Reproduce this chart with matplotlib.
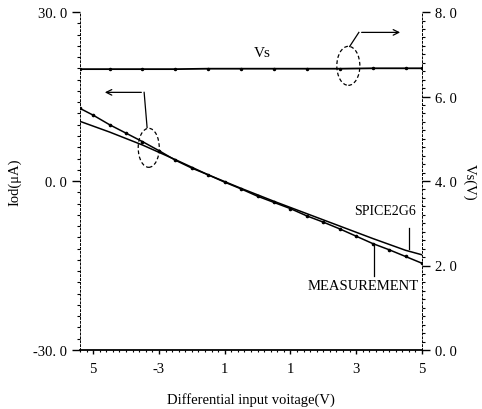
import matplotlib
matplotlib.use("Agg")
import matplotlib.pyplot as plt
from matplotlib.patches import Ellipse
from matplotlib.ticker import MultipleLocator, FixedLocator, FixedFormatter

plt.rcParams['font.family'] = ['Liberation Serif', 'DejaVu Serif']

# ---- data ----
x_meas = [-5.4, -5.0, -4.5, -4.0, -3.5, -3.0, -2.5, -2.0, -1.5, -1.0, -0.5,
          0.0, 0.5, 1.0, 1.5, 2.0, 2.5, 3.0, 3.5, 4.0, 4.5, 5.0]
iod_meas = [12.9, 11.7, 10.0, 8.5, 7.0, 5.4, 3.7, 2.3, 1.1, -0.2, -1.4,
            -2.7, -3.8, -4.9, -6.2, -7.3, -8.5, -9.8, -11.1, -12.2, -13.4, -14.6]

x_spice = [-5.4, -4.5, -3.5, -2.5, -1.5, -0.5, 0.5, 1.5, 2.5, 3.5, 4.5, 5.0]
iod_spice = [10.6, 8.7, 6.4, 3.8, 1.1, -1.3, -3.6, -5.8, -8.0, -10.2, -12.3, -13.1]

x_vs = [-5.4, -4.5, -3.5, -2.5, -1.5, -0.5, 0.5, 1.5, 2.5, 3.5, 4.5, 5.0]
vs_vals = [6.65, 6.65, 6.65, 6.65, 6.66, 6.66, 6.66, 6.66, 6.66, 6.67, 6.67, 6.67]

x_ticks = [-5, -3, -1, 1, 3, 5]
x_ticklabels = ["5", "-3", "1", "1", "3", "5"]
yl_ticks = [-30, 0, 30]
yl_ticklabels = ["-30. 0", "0. 0", "30. 0"]
yr_ticks = [0, 2, 4, 6, 8]
yr_ticklabels = ["0. 0", "2. 0", "4. 0", "6. 0", "8. 0"]

fig = plt.figure(figsize=(4.82, 4.10), dpi=100)
ax = fig.add_axes([0.166, 0.144, 0.7095, 0.824])
ax2 = ax.twinx()

ax.plot(x_spice, iod_spice, color='black', lw=1.1)
ax.plot(x_meas, iod_meas, color='black', lw=1.1, marker='o', ms=1.6)
ax2.plot(x_vs, vs_vals, color='black', lw=1.3, marker='o', ms=1.5)

ax.set_xlim(-5.4, 5.0)
ax.set_ylim(-30, 30)
ax2.set_ylim(0, 8)

ax.xaxis.set_major_locator(FixedLocator(x_ticks))
ax.xaxis.set_major_formatter(FixedFormatter(x_ticklabels))
ax.xaxis.set_minor_locator(MultipleLocator(0.2))
ax.yaxis.set_major_locator(FixedLocator(yl_ticks))
ax.yaxis.set_major_formatter(FixedFormatter(yl_ticklabels))
ax.yaxis.set_minor_locator(MultipleLocator(2))
ax2.yaxis.set_major_locator(FixedLocator(yr_ticks))
ax2.yaxis.set_major_formatter(FixedFormatter(yr_ticklabels))
ax2.yaxis.set_minor_locator(MultipleLocator(0.2))

for a in (ax, ax2):
    a.spines['top'].set_visible(False)
    a.tick_params(which='major', direction='out', length=6, width=1.0, labelsize=10.5)
    a.tick_params(which='minor', direction='out', length=2.5, width=0.8)
ax.tick_params(axis='x', which='major', length=3, pad=6)
ax.tick_params(axis='x', which='minor', length=1.5)
ax.spines['left'].set_linestyle((0, (2, 2)))
ax.spines['left'].set_linewidth(0.7)
ax2.spines['left'].set_visible(False)
ax2.spines['bottom'].set_visible(False)
ax.spines['right'].set_visible(False)
ax2.spines['right'].set_linestyle((0, (2, 2)))
ax2.spines['right'].set_linewidth(0.7)
ax.spines['bottom'].set_linewidth(1.3)

ax.set_ylabel("Iod(\u03bcA)", fontsize=10.5, labelpad=8)
ax2.set_ylabel("Vs(V)", fontsize=10.5, rotation=-90, labelpad=14)
ax.set_xlabel("Differential input voitage(V)", fontsize=10.5, labelpad=12)

# annotations
ax.text(0.15, 22.9, "Vs", fontsize=11, ha='center', va='center')
ax.text(3.87, -5.2, "SPICE2G6", fontsize=10, ha='center', va='center')
ax.text(3.2, -18.5, "MEASUREMENT", fontsize=10.5, ha='center', va='center')
ax.plot([4.6, 4.6], [-8.4, -12.0], color='black', lw=0.9)
ax.plot([3.53, 3.53], [-11.2, -16.8], color='black', lw=0.9)

# left arrow (points to left axis)
ax.plot([-3.45, -3.36], [15.75, 9.5], color='black', lw=0.9)
ax.annotate("", xy=(-4.73, 15.75), xytext=(-3.45, 15.75),
            arrowprops=dict(arrowstyle='->', color='black', lw=0.9))
ax.add_patch(Ellipse((-3.31, 5.9), 0.64, 6.93, fill=False, ls=(0, (3, 2)),
                     lw=0.9, ec='black'))

# right arrow (points to right axis)
ax.plot([3.08, 2.8], [26.4, 23.9], color='black', lw=0.9)
ax.annotate("", xy=(4.42, 26.4), xytext=(3.08, 26.4),
            arrowprops=dict(arrowstyle='->', color='black', lw=0.9))
ax.add_patch(Ellipse((2.76, 20.46), 0.70, 6.93, fill=False, ls=(0, (3, 2)),
                     lw=0.9, ec='black'))

fig.savefig("out.png", dpi=100)
